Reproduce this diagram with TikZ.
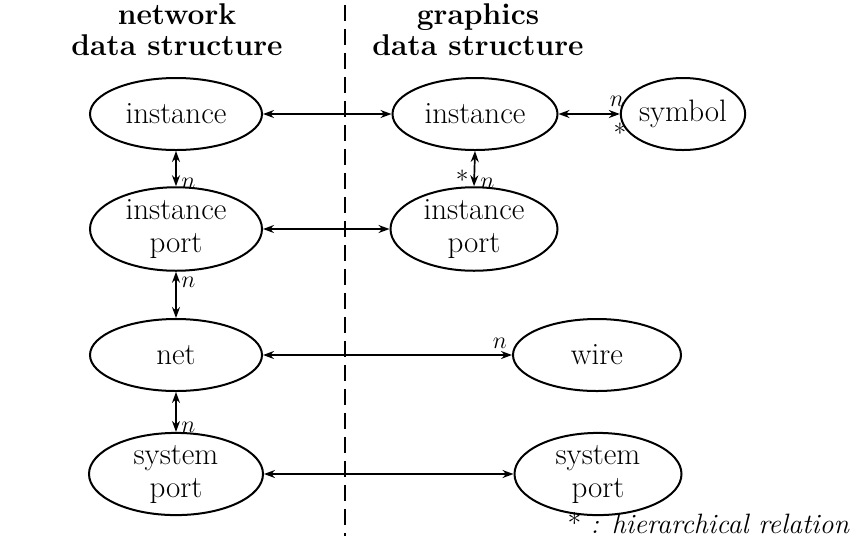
\documentclass[tikz,border=0pt]{standalone}
\usetikzlibrary{arrows.meta,shapes.geometric}
\begin{document}
\begin{tikzpicture}[x=0.5pt,y=-0.5pt,
  ent/.style={draw, ellipse, line width=1pt, inner sep=0pt, minimum height=36pt, align=center,
    font=\fontsize{15.5}{16.5}\selectfont},
  link/.style={line width=0.85pt, {Stealth[length=5.5pt,width=4pt]}-{Stealth[length=5.5pt,width=4pt]}},
  lab/.style={font=\fontsize{13}{14}\selectfont, inner sep=0pt},
  head/.style={align=center, font=\fontsize{15}{15.5}\selectfont\bfseries}]
\useasboundingbox (0,0) rectangle (857,548);
% divider
\coordinate (dtop) at (345,5);
\coordinate (dbot) at (345,536);
\draw[line width=0.7pt, dash pattern=on 8pt off 4pt] (dtop) -- (dbot);
% headers
\node[head] (h1) at (177,30) {network\\data structure};
\node[head] (h2) at (478,30) {graphics\\data structure};
% left column
\node[ent, minimum width=86pt] (li) at (176,114) {instance};
\node[ent, minimum width=86pt] (lip) at (176,229) {instance\\port};
\node[ent, minimum width=86pt] (net) at (176,355) {net};
\node[ent, minimum width=87pt] (lsp) at (176,474) {system\\port};
% right column
\node[ent, minimum width=82.5pt] (ri) at (475,114) {instance};
\node[ent, minimum width=53pt] (sym) at (683,114) {symbol};
\node[ent, minimum width=83.5pt] (rip) at (474,229) {instance\\port};
\node[ent, minimum width=84pt] (wire) at (597,355) {wire};
\node[ent, minimum width=83.5pt] (rsp) at (598,474) {system\\port};
% connectors
\draw[link] (li.east) -- (ri.west);
\draw[link] (ri.east) -- (sym.west);
\draw[link] (li.south) -- (lip.north);
\draw[link] (ri.south) -- (rip.north);
\draw[link] (lip.east) -- (rip.west);
\draw[link] (lip.south) -- (net.north);
\draw[link] (net.east) -- (wire.west);
\draw[link] (net.south) -- (lsp.north);
\draw[link] (lsp.east) -- (rsp.west);
% labels
\node[lab, anchor=west] (n1) at (181,183) {$n$};
\node[lab, anchor=west] (n2) at (181,282) {$n$};
\node[lab, anchor=west] (n3) at (181,427) {$n$};
\node[lab, anchor=west] (n4) at (480,183) {$n$};
\node[lab, anchor=east] (s4) at (469,180) {*};
\node[lab] (n5) at (617,101) {$n$};
\node[lab] (s5) at (620,133) {*};
\node[lab] (n6) at (500,343) {$n$};
% legend
\node[anchor=east, inner sep=0pt, font=\fontsize{14}{15}\selectfont] (leg) at (850,523) {* \textit{: hierarchical relation}};
\end{tikzpicture}
\end{document}
